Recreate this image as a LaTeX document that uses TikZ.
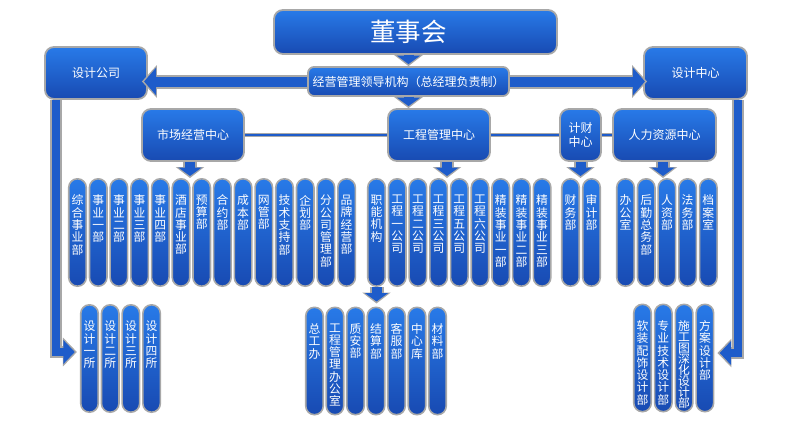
\documentclass[tikz,border=0pt]{standalone}
\usepackage{fontspec}
\newfontfamily\cjk{Noto Sans CJK SC}
\usetikzlibrary{arrows.meta,calc}
\definecolor{btop}{RGB}{40,122,232}
\definecolor{bbot}{RGB}{24,74,178}
\definecolor{bedge}{RGB}{168,168,168}
\definecolor{afill}{RGB}{30,92,202}
\makeatletter
\newcommand\vchars[1]{\vch@r#1\relax}
\def\vch@r#1{\ifx#1\relax\else#1\par\expandafter\vch@r\fi}
\makeatother
\newcommand\pilltext[2][12.3pt]{\parbox[c][96pt][t]{14pt}{\centering\fontsize{11.8pt}{#1}\selectfont\lineskiplimit=-20pt\relax\vspace*{10.5pt}\expandafter\vchars\expandafter{#2}}}
\newcommand\barrow[2]{\draw[#1B] #2; \draw[#1F] #2;}
\begin{document}
\begin{tikzpicture}[x=1pt,y=-1pt,
  box/.style={draw=bedge,line width=1.8pt,rounded corners=9pt,top color=btop,bottom color=bbot,text=white,font=\cjk\fontsize{12pt}{13.5pt}\selectfont,align=center,inner sep=0pt},
  pill/.style={draw=bedge,line width=1.6pt,rounded corners=8.7pt,top color=btop,bottom color=bbot,text=white,font=\cjk,minimum width=17.5pt,minimum height=107.4pt,inner sep=0pt},
  thinB/.style={draw=bedge,line width=4.5pt},
  thinF/.style={draw=afill,line width=2.5pt},
  bigB/.style={draw=bedge,line width=14pt,-{Triangle[width=32pt,length=15pt]}},
  bigF/.style={draw=afill,line width=10pt,-{Triangle[width=27pt,length=12pt]},shorten >=2.2pt},
  midB/.style={draw=bedge,line width=11.5pt,line join=miter,-{Triangle[width=28pt,length=14pt]}},
  midF/.style={draw=afill,line width=8pt,line join=miter,-{Triangle[width=23.5pt,length=11.5pt]},shorten >=2.2pt},
  smB/.style={draw=bedge,line width=14pt,-{Triangle[width=28pt,length=11pt]}},
  smF/.style={draw=afill,line width=10pt,-{Triangle[width=23pt,length=8.5pt]},shorten >=2pt}]
\useasboundingbox (0,0) rectangle (800,444);
% top level boxes
\node[box,minimum width=283pt,minimum height=44pt,font=\cjk\fontsize{25.5pt}{28pt}\selectfont] (dsh) at (415.5,32) {董事会\hspace*{14pt}};
\node[box,minimum width=201pt,minimum height=29pt,rounded corners=6pt] (jy) at (408.5,81.5) {经营管理领导机构（总经理负责制）};
\node[box,minimum width=102pt,minimum height=52pt] (sjgs) at (96,73) {设计公司};
\node[box,minimum width=103pt,minimum height=52pt] (sjzx) at (695.5,73) {设计中心};
\node[box,minimum width=102pt,minimum height=52pt] (sc) at (193,135) {市场经营中心};
\node[box,minimum width=102pt,minimum height=52pt] (gc) at (439,135) {工程管理中心};
\node[box,minimum width=41pt,minimum height=52pt] (jc) at (580.5,135) {计财\\中心};
\node[box,minimum width=103pt,minimum height=52pt] (rl) at (664.5,135) {人力资源中心};
% row 1 pills
\foreach \t [count=\i from 0] in {综合事业部,事业一部,事业二部,事业三部,事业四部,酒店事业部,预算部,合约部,成本部,网管部,技术支持部,企划部,分公司管理部,品牌经营部}
  \node[pill] (a\i) at ({77.5+20.7*\i},232.5) {\pilltext{\t}};
\foreach \t [count=\i from 0] in {职能机构,工程一公司,工程二公司,工程三公司,工程五公司,工程六公司,精装事业一部,精装事业二部,精装事业三部}
  \node[pill] (b\i) at ({376.5+20.7*\i},232.5) {\pilltext{\t}};
\foreach \t [count=\i from 0] in {财务部,审计部}
  \node[pill] (c\i) at ({570.5+21*\i},232.5) {\pilltext{\t}};
\foreach \t [count=\i from 0] in {办公室,后勤总务部,人资部,法务部,档案室}
  \node[pill] (d\i) at ({625.5+20.7*\i},232.5) {\pilltext{\t}};
% row 2 pills
\foreach \t [count=\i from 0] in {设计一所,设计二所,设计三所,设计四所}
  \node[pill] (l\i) at ({89.5+20.7*\i},358.5) {\pilltext{\t}};
\foreach \t [count=\i from 0] in {总工办,工程管理办公室,质安部,结算部,客服部,中心库,材料部}
  \node[pill] (e\i) at ({314.5+20.5*\i},361) {\pilltext{\t}};
\node[pill] (r0) at (642.5,358) {\pilltext{软装配饰设计部}};
\node[pill] (r1) at (663.3,358) {\pilltext{专业技术设计部}};
\node[pill] (r2) at (684.1,358) {\pilltext[11pt]{施工图深化设计部}};
\node[pill] (r3) at (704.9,358) {\pilltext{方案设计部}};
% thin links between centres
\barrow{thin}{(sc.east) -- (gc.west)}
\barrow{thin}{(gc.east) -- (jc.west)}
\barrow{thin}{(jc.east) -- (rl.west)}
% block arrows
\barrow{big}{(jy.west) -- ($(jy.west -| sjgs.east)+(-6,0)$)}
\barrow{big}{(jy.east) -- ($(jy.east -| sjzx.west)+(4,0)$)}
\barrow{sm}{(dsh.south -| jy.north) -- (jy.north)}
\barrow{sm}{(jy.south) -- (jy.south |- gc.north)}
\barrow{sm}{($(sc.south)+(-3,0)$) -- ($(sc.south |- a0.north)+(-3,0)$)}
\barrow{sm}{($(gc.south)+(8,0)$) -- ($(gc.south |- a0.north)+(8,0)$)}
\barrow{sm}{(jc.south) -- (jc.south |- a0.north)}
\barrow{sm}{($(rl.south)+(-1.5,0)$) -- ($(rl.south |- a0.north)+(-1.5,0)$)}
\barrow{sm}{(b0.south) -- ($(b0.south |- e0.north)+(0,-3)$)}
% L connectors
\coordinate (lc) at (56,352);
\coordinate (rc) at (738,353);
\barrow{mid}{(sjgs.south -| lc) -- (lc) -- ($(lc -| l0.west)+(-3,0)$)}
\barrow{mid}{(sjzx.south -| rc) -- (rc) -- ($(rc -| r3.east)+(3,0)$)}
\end{tikzpicture}
\end{document}
